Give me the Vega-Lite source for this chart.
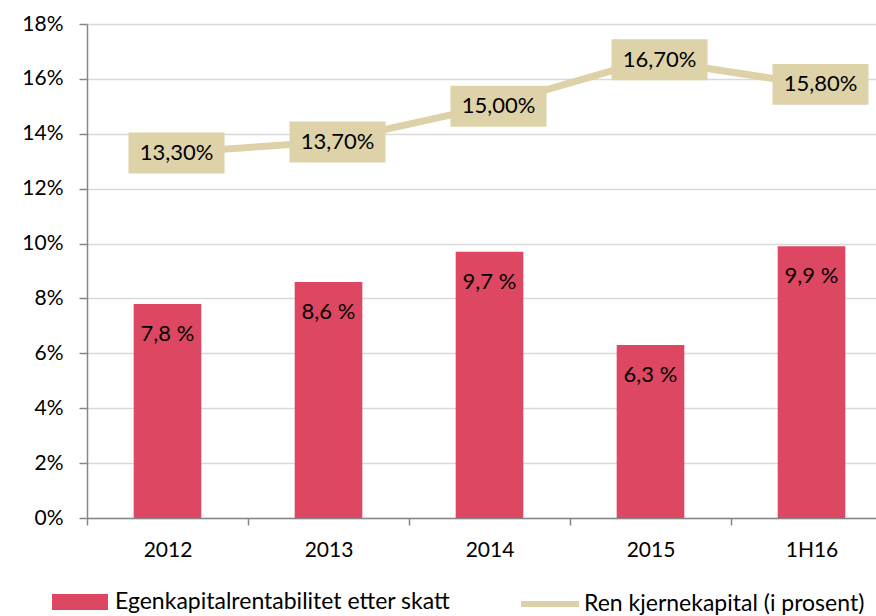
{
  "$schema": "https://vega.github.io/schema/vega-lite/v6.json",
  "width": 789,
  "height": 494,
  "autosize": {"type": "none"},
  "padding": {"left": 87, "top": 24, "right": 0, "bottom": 98},
  "background": "white",
  "config": {
    "view": {"stroke": null},
    "font": "Lato",
    "text": {"font": "Lato"}
  },
  "data": {
    "values": [
      {"period": "2012", "roe": 7.8, "cet": 13.3},
      {"period": "2013", "roe": 8.6, "cet": 13.7},
      {"period": "2014", "roe": 9.7, "cet": 15.0},
      {"period": "2015", "roe": 6.3, "cet": 16.7},
      {"period": "1H16", "roe": 9.9, "cet": 15.8}
    ]
  },
  "transform": [
    {"calculate": "replace(format(datum.roe, '.1f'), '.', ',') + ' %'", "as": "roeLabel"},
    {"calculate": "replace(format(datum.cet, '.2f'), '.', ',') + '%'", "as": "cetLabel"}
  ],
  "encoding": {
    "x": {
      "field": "period",
      "type": "nominal",
      "sort": null,
      "scale": {"range": [0, 805], "paddingInner": 0, "paddingOuter": 0},
      "axis": {
        "title": null,
        "labelAngle": 0,
        "labelFont": "Lato",
        "labelFontSize": 21,
        "labelColor": "#000000",
        "labelPadding": 14,
        "tickBand": "extent",
        "tickSize": 7,
        "tickColor": "#868686",
        "tickWidth": 1.5,
        "domainColor": "#868686",
        "domainWidth": 1.5,
        "grid": false
      }
    }
  },
  "layer": [
    {
      "mark": {"type": "bar", "width": {"band": 0.42}},
      "encoding": {
        "y": {
          "field": "roe",
          "type": "quantitative",
          "scale": {"domain": [0, 18], "nice": false},
          "axis": {
            "title": null,
            "values": [0, 2, 4, 6, 8, 10, 12, 14, 16, 18],
            "labelExpr": "datum.value + '%'",
            "labelFont": "Lato",
            "labelFontSize": 21,
            "labelColor": "#000000",
            "labelPadding": 16,
            "tickSize": 8,
            "tickColor": "#868686",
            "tickWidth": 1.5,
            "domainColor": "#868686",
            "domainWidth": 1.5,
            "grid": true,
            "gridColor": "#D9D9D9",
            "gridWidth": 1.5
          }
        },
        "fill": {
          "datum": "Egenkapitalrentabilitet etter skatt",
          "type": "nominal",
          "scale": {"range": ["#DE4762"]},
          "legend": {
            "title": null,
            "orient": "none",
            "legendX": -35,
            "legendY": 550,
            "padding": 0,
            "symbolType": "M-1,-0.29L1,-0.29L1,0.29L-1,0.29Z",
            "symbolSize": 3136,
            "symbolStrokeWidth": 0,
            "labelFont": "Lato",
            "labelFontSize": 23,
            "labelColor": "#000000",
            "labelOffset": 7,
            "labelLimit": 0
          }
        }
      }
    },
    {
      "mark": {"type": "text", "baseline": "middle", "align": "center", "dy": 30, "fontSize": 22, "color": "#000000"},
      "encoding": {
        "y": {"field": "roe", "type": "quantitative"},
        "text": {"field": "roeLabel"}
      }
    },
    {
      "mark": {"type": "line", "strokeWidth": 7, "strokeCap": "butt"},
      "encoding": {
        "y": {"field": "cet", "type": "quantitative"},
        "stroke": {
          "datum": "Ren kjernekapital (i prosent)",
          "type": "nominal",
          "scale": {"range": ["#DDD1A7"]},
          "legend": {
            "title": null,
            "orient": "none",
            "legendX": 431,
            "legendY": 548,
            "padding": 0,
            "symbolType": "stroke",
            "symbolSize": 3364,
            "symbolStrokeWidth": 6,
            "labelFont": "Lato",
            "labelFontSize": 23,
            "labelColor": "#000000",
            "labelOffset": 2,
            "labelLimit": 0
          }
        }
      }
    },
    {
      "mark": {"type": "point", "filled": true, "opacity": 1, "color": "#DED2A8", "shape": "M-1,-0.427L1,-0.427L1,0.427L-1,0.427Z", "size": 9216, "xOffset": 9},
      "encoding": {
        "y": {"field": "cet", "type": "quantitative"}
      }
    },
    {
      "mark": {"type": "text", "baseline": "middle", "align": "center", "dx": 9, "fontSize": 22, "color": "#000000"},
      "encoding": {
        "y": {"field": "cet", "type": "quantitative"},
        "text": {"field": "cetLabel"}
      }
    }
  ]
}
